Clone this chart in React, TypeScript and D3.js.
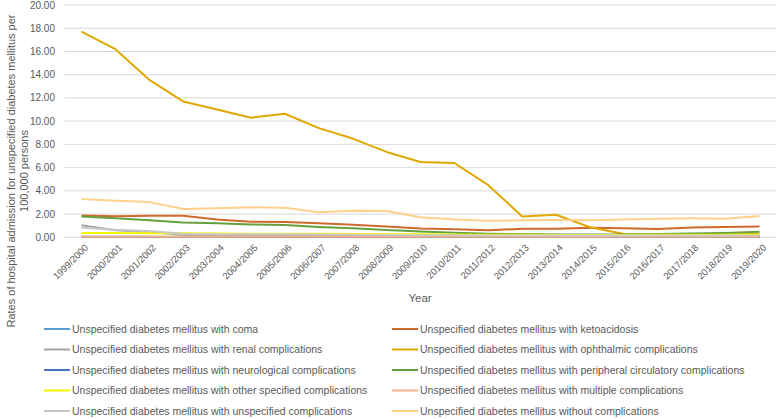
import * as d3 from 'd3';
import { useEffect, useRef } from 'react';

const years = [
  '1999/2000', '2000/2001', '2001/2002', '2002/2003', '2003/2004', '2004/2005', '2005/2006',
  '2006/2007', '2007/2008', '2008/2009', '2009/2010', '2010/2011', '2011/2012', '2012/2013',
  '2013/2014', '2014/2015', '2015/2016', '2016/2017', '2017/2018', '2018/2019', '2019/2020',
];

const coma = [0.03, 0.03, 0.02, 0.02, 0.02, 0.02, 0.02, 0.02, 0.02, 0.02, 0.02, 0.02, 0.02, 0.02, 0.02, 0.02, 0.02, 0.02, 0.02, 0.02, 0.02];
const ketoacidosis = [1.87, 1.82, 1.85, 1.85, 1.54, 1.34, 1.31, 1.22, 1.08, 0.92, 0.75, 0.69, 0.6, 0.74, 0.74, 0.83, 0.77, 0.72, 0.85, 0.88, 0.92];
const renal = [1.03, 0.6, 0.45, 0.2, 0.15, 0.14, 0.13, 0.12, 0.11, 0.1, 0.1, 0.1, 0.09, 0.09, 0.1, 0.1, 0.1, 0.1, 0.1, 0.1, 0.1];
const ophthalmic = [17.7, 16.2, 13.56, 11.7, 11.0, 10.3, 10.64, 9.4, 8.5, 7.35, 6.49, 6.4, 4.49, 1.8, 1.94, 0.86, 0.28, 0.25, 0.25, 0.25, 0.3];
const neurological = [0.04, 0.04, 0.04, 0.03, 0.03, 0.03, 0.03, 0.03, 0.03, 0.03, 0.03, 0.03, 0.03, 0.03, 0.03, 0.03, 0.03, 0.03, 0.03, 0.03, 0.03];
const peripheral = [1.8, 1.63, 1.46, 1.27, 1.2, 1.11, 1.05, 0.88, 0.77, 0.63, 0.5, 0.4, 0.31, 0.28, 0.25, 0.25, 0.25, 0.28, 0.32, 0.38, 0.47];
const otherSpecified = [0.38, 0.36, 0.35, 0.34, 0.32, 0.31, 0.3, 0.3, 0.28, 0.27, 0.26, 0.24, 0.22, 0.21, 0.2, 0.2, 0.2, 0.21, 0.21, 0.22, 0.25];
const multiple = [0.05, 0.05, 0.05, 0.05, 0.05, 0.05, 0.05, 0.05, 0.05, 0.05, 0.04, 0.04, 0.04, 0.04, 0.04, 0.04, 0.04, 0.04, 0.04, 0.04, 0.04];
const unspecified = [0.82, 0.65, 0.55, 0.3, 0.27, 0.27, 0.26, 0.24, 0.22, 0.2, 0.18, 0.17, 0.16, 0.15, 0.15, 0.15, 0.15, 0.15, 0.15, 0.15, 0.15];
const without = [3.29, 3.14, 3.03, 2.43, 2.5, 2.58, 2.54, 2.15, 2.28, 2.26, 1.72, 1.54, 1.43, 1.46, 1.48, 1.46, 1.54, 1.6, 1.63, 1.6, 1.83];

const yTicks = [0, 2, 4, 6, 8, 10, 12, 14, 16, 18, 20];

const series = [
  { name: 'Unspecified diabetes mellitus with coma', values: coma, colour: '#5B9BD5' },
  { name: 'Unspecified diabetes mellitus with ketoacidosis', values: ketoacidosis, colour: '#D0692C' },
  { name: 'Unspecified diabetes mellitus with renal complications', values: renal, colour: '#A5A5A5' },
  { name: 'Unspecified diabetes mellitus with ophthalmic complications', values: ophthalmic, colour: '#E0A800' },
  { name: 'Unspecified diabetes mellitus with neurological complications', values: neurological, colour: '#4472C4' },
  { name: 'Unspecified diabetes mellitus with peripheral circulatory complications', values: peripheral, colour: '#64A03C' },
  { name: 'Unspecified diabetes mellitus with other specified complications', values: otherSpecified, colour: '#F5F500' },
  { name: 'Unspecified diabetes mellitus with multiple complications', values: multiple, colour: '#F4B183' },
  { name: 'Unspecified diabetes mellitus with unspecified complications', values: unspecified, colour: '#C9C9C9' },
  { name: 'Unspecified diabetes mellitus without complications', values: without, colour: '#FFD08A' },
];

const FONT = '"Liberation Sans", Arial, sans-serif';

export default function App() {
  const ref = useRef<SVGSVGElement>(null);

  useEffect(() => {
    const svg = d3.select(ref.current);
    svg.selectAll('*').remove();

    const x = d3.scalePoint(years, [64.5, 776.5]).padding(0.5);
    const y = d3.scaleLinear([0, 20], [237.3, 5]);

    // gridlines + y labels
    const yAxis = svg.append('g');
    yAxis
      .selectAll('line')
      .data(yTicks)
      .join('line')
      .attr('x1', 64.5)
      .attr('x2', 776.5)
      .attr('y1', (d) => y(d))
      .attr('y2', (d) => y(d))
      .attr('stroke', '#D9D9D9')
      .attr('stroke-width', 1);
    yAxis
      .selectAll('text')
      .data(yTicks)
      .join('text')
      .attr('x', 55)
      .attr('y', (d) => y(d))
      .attr('dy', '0.35em')
      .attr('text-anchor', 'end')
      .attr('font-size', 10)
      .attr('fill', '#595959')
      .text((d) => d3.format('.2f')(d));

    // x tick labels
    svg
      .append('g')
      .selectAll('text')
      .data(years)
      .join('text')
      .attr('transform', (d) => `translate(${x(d)! + 5}, 246) rotate(-45)`)
      .attr('text-anchor', 'end')
      .attr('dy', '0.35em')
      .attr('font-size', 9.5)
      .attr('fill', '#595959')
      .text((d) => d);

    svg
      .append('text')
      .attr('x', 420)
      .attr('y', 298)
      .attr('dy', '0.35em')
      .attr('text-anchor', 'middle')
      .attr('font-size', 11.5)
      .attr('fill', '#595959')
      .text('Year');

    const title = svg
      .append('text')
      .attr('transform', 'translate(0, 171) rotate(-90)')
      .attr('text-anchor', 'middle')
      .attr('font-size', 11)
      .attr('fill', '#595959');
    title.append('tspan').attr('x', 0).attr('y', 15).text('Rates of hospital admission for unspecified diabetes mellitus per');
    title.append('tspan').attr('x', 0).attr('y', 27.5).text('100,000 persons');

    const line = d3
      .line<number>()
      .x((_, i) => x(years[i])!)
      .y((d) => y(d));

    svg
      .append('g')
      .selectAll('path')
      .data(series)
      .join('path')
      .attr('d', (s) => line(s.values))
      .attr('fill', 'none')
      .attr('stroke', (s) => s.colour)
      .attr('stroke-width', 2)
      .attr('stroke-linejoin', 'round');

    // legend, two columns
    const legend = svg
      .append('g')
      .selectAll('g')
      .data(series)
      .join('g')
      .attr('transform', (_, i) => `translate(${i % 2 === 0 ? 44 : 392}, ${329 + Math.floor(i / 2) * 20.5})`);
    legend
      .append('line')
      .attr('x1', 0)
      .attr('x2', 26)
      .attr('stroke', (s) => s.colour)
      .attr('stroke-width', 2);
    legend
      .append('text')
      .attr('x', 28)
      .attr('dy', '0.35em')
      .attr('font-size', 10.5)
      .attr('fill', '#595959')
      .text((s) => s.name);
  }, []);

  return (
    <svg
      ref={ref}
      width={778}
      height={419}
      style={{ position: 'absolute', left: 0, top: 0, background: '#fff', fontFamily: FONT }}
    ></svg>
  );
}
